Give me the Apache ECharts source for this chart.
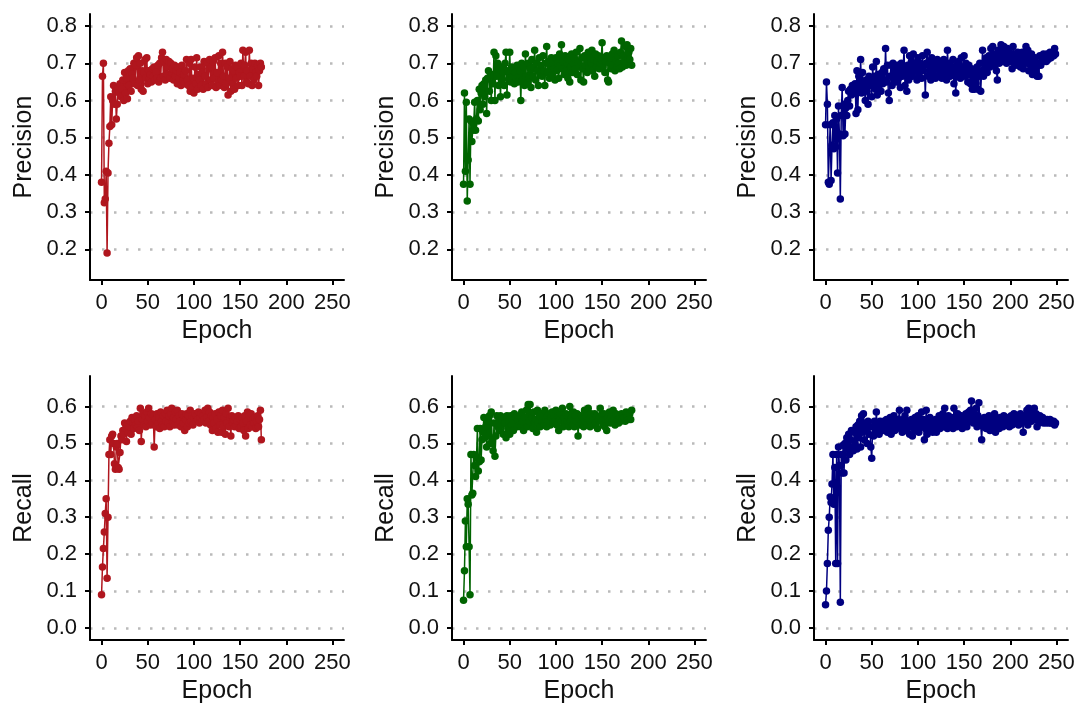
<!DOCTYPE html>
<html><head><meta charset="utf-8">
<script src="https://cdn.jsdelivr.net/npm/echarts@6/dist/echarts.min.js"></script>
<style>html,body{margin:0;padding:0;background:#fff}#c{width:1078px;height:705px}</style>
</head><body><div id="c"></div>
<script>
// Tick labels
const xTicks = [0,50,100,150,200,250];
const precTicks = [0.2,0.3,0.4,0.5,0.6,0.7,0.8];
const recTicks = [0.0,0.1,0.2,0.3,0.4,0.5,0.6];
const xLabel = 'Epoch';
const yLabels = ['Precision','Recall'];

// Model 1 (red)
const prec1 = [0.38,0.665,0.70,0.325,0.335,0.41,0.19,0.405,0.485,0.53,
0.61,0.535,0.60,0.64,0.59,0.625,0.55,0.59,0.635,0.62,
0.645,0.61,0.63,0.655,0.60,0.675,0.62,0.66,0.605,0.68,
0.64,0.685,0.625,0.67,0.66,0.70,0.645,0.695,0.715,0.64,
0.72,0.655,0.70,0.63,0.68,0.625,0.675,0.71,0.66,0.715,
0.645,0.68,0.66,0.67,0.65,0.685,0.665,0.69,0.655,0.675,
0.66,0.695,0.65,0.70,0.66,0.715,0.73,0.665,0.705,0.655,
0.71,0.67,0.69,0.705,0.66,0.70,0.675,0.685,0.655,0.695,
0.665,0.68,0.645,0.69,0.66,0.675,0.64,0.695,0.655,0.67,
0.645,0.68,0.71,0.655,0.64,0.70,0.625,0.71,0.635,0.66,
0.62,0.69,0.645,0.715,0.63,0.67,0.655,0.69,0.64,0.675,
0.63,0.705,0.665,0.645,0.70,0.635,0.685,0.71,0.655,0.69,
0.64,0.705,0.66,0.715,0.635,0.675,0.65,0.72,0.64,0.70,
0.655,0.73,0.665,0.635,0.70,0.645,0.69,0.615,0.66,0.705,
0.625,0.685,0.645,0.68,0.63,0.695,0.66,0.69,0.64,0.675,
0.665,0.70,0.64,0.735,0.665,0.695,0.73,0.65,0.68,0.645,
0.735,0.665,0.70,0.64,0.685,0.655,0.70,0.675,0.665,0.695,
0.64,0.68,0.70,0.69];
const rec1 = [0.09,0.165,0.215,0.26,0.31,0.35,0.135,0.30,0.47,0.51,
0.47,0.52,0.525,0.50,0.445,0.43,0.49,0.50,0.435,0.43,
0.475,0.52,0.51,0.535,0.525,0.555,0.54,0.505,0.55,0.53,
0.545,0.56,0.525,0.57,0.555,0.54,0.565,0.55,0.575,0.545,
0.56,0.535,0.595,0.505,0.565,0.58,0.55,0.575,0.545,0.585,
0.56,0.595,0.57,0.55,0.58,0.555,0.575,0.49,0.565,0.545,
0.58,0.555,0.57,0.54,0.585,0.56,0.55,0.575,0.545,0.58,
0.56,0.59,0.555,0.575,0.545,0.58,0.595,0.56,0.57,0.55,
0.585,0.565,0.59,0.55,0.575,0.56,0.545,0.58,0.555,0.57,
0.535,0.565,0.58,0.545,0.575,0.555,0.59,0.56,0.575,0.55,
0.57,0.58,0.56,0.575,0.565,0.585,0.555,0.57,0.58,0.56,
0.575,0.565,0.59,0.555,0.57,0.595,0.56,0.585,0.55,0.575,
0.535,0.57,0.555,0.58,0.54,0.565,0.53,0.585,0.55,0.575,
0.53,0.59,0.545,0.57,0.525,0.58,0.555,0.595,0.545,0.57,
0.52,0.575,0.555,0.565,0.545,0.57,0.55,0.56,0.575,0.54,
0.565,0.545,0.57,0.555,0.535,0.575,0.52,0.56,0.585,0.54,
0.575,0.55,0.58,0.545,0.565,0.555,0.57,0.54,0.56,0.575,
0.545,0.565,0.59,0.51];

// Model 2 (green)
const prec2 = [0.375,0.62,0.41,0.595,0.33,0.44,0.55,0.375,0.545,0.49,
0.52,0.535,0.595,0.52,0.55,0.60,0.545,0.63,0.575,0.62,
0.64,0.59,0.645,0.61,0.655,0.565,0.66,0.68,0.625,0.665,
0.60,0.67,0.645,0.73,0.60,0.72,0.665,0.70,0.64,0.685,
0.61,0.69,0.655,0.675,0.64,0.70,0.73,0.615,0.68,0.66,
0.73,0.65,0.69,0.665,0.68,0.645,0.675,0.66,0.695,0.65,
0.67,0.68,0.60,0.70,0.655,0.69,0.64,0.725,0.665,0.645,
0.70,0.66,0.685,0.635,0.71,0.665,0.69,0.735,0.655,0.70,
0.68,0.64,0.715,0.67,0.695,0.665,0.72,0.68,0.64,0.70,
0.745,0.675,0.705,0.66,0.69,0.715,0.67,0.70,0.685,0.655,
0.715,0.68,0.70,0.66,0.725,0.695,0.75,0.685,0.705,0.67,
0.72,0.68,0.70,0.66,0.71,0.65,0.69,0.725,0.675,0.70,
0.715,0.685,0.73,0.67,0.705,0.69,0.74,0.655,0.715,0.685,
0.65,0.72,0.695,0.71,0.675,0.73,0.69,0.715,0.70,0.735,
0.68,0.71,0.665,0.725,0.69,0.705,0.72,0.685,0.70,0.71,
0.755,0.69,0.715,0.675,0.705,0.72,0.655,0.65,0.70,0.715,
0.685,0.725,0.695,0.735,0.68,0.71,0.69,0.72,0.70,0.685,
0.73,0.76,0.69,0.72,0.705,0.745,0.695,0.75,0.715,0.73,
0.71,0.74,0.695];
const rec2 = [0.075,0.155,0.29,0.22,0.35,0.335,0.22,0.09,0.47,0.36,
0.365,0.47,0.44,0.41,0.46,0.54,0.425,0.45,0.54,0.455,
0.51,0.53,0.57,0.515,0.545,0.49,0.56,0.52,0.575,0.50,
0.585,0.51,0.48,0.555,0.465,0.52,0.575,0.545,0.56,0.535,
0.575,0.55,0.565,0.525,0.57,0.555,0.515,0.575,0.54,0.56,
0.525,0.575,0.55,0.565,0.535,0.58,0.555,0.57,0.545,0.565,
0.55,0.575,0.545,0.585,0.56,0.535,0.57,0.555,0.59,0.545,
0.605,0.56,0.605,0.55,0.57,0.54,0.585,0.555,0.565,0.53,
0.59,0.555,0.575,0.545,0.58,0.56,0.57,0.55,0.59,0.565,
0.545,0.575,0.56,0.58,0.55,0.57,0.585,0.555,0.57,0.56,
0.59,0.55,0.575,0.535,0.565,0.58,0.56,0.595,0.545,0.57,
0.555,0.58,0.56,0.575,0.545,0.60,0.56,0.57,0.55,0.585,
0.545,0.575,0.56,0.58,0.52,0.565,0.55,0.575,0.555,0.57,
0.545,0.59,0.56,0.575,0.55,0.595,0.565,0.545,0.58,0.56,
0.57,0.55,0.58,0.555,0.575,0.54,0.565,0.57,0.595,0.56,
0.575,0.55,0.58,0.545,0.565,0.535,0.57,0.56,0.585,0.555,
0.575,0.56,0.59,0.565,0.55,0.58,0.565,0.575,0.555,0.57,
0.56,0.58,0.565,0.575,0.57,0.56,0.585,0.57,0.575,0.565,
0.58,0.565,0.59];

// Model 3 (blue)
const prec3 = [0.535,0.65,0.59,0.38,0.375,0.535,0.385,0.48,0.54,0.47,
0.56,0.475,0.55,0.405,0.585,0.51,0.335,0.56,0.635,0.505,
0.59,0.51,0.58,0.56,0.60,0.625,0.585,0.63,0.615,0.64,
0.62,0.635,0.645,0.565,0.68,0.575,0.665,0.635,0.71,0.62,
0.675,0.645,0.63,0.60,0.655,0.625,0.59,0.665,0.64,0.66,
0.61,0.69,0.645,0.665,0.63,0.705,0.615,0.67,0.64,0.66,
0.625,0.675,0.645,0.685,0.655,0.74,0.65,0.695,0.62,0.60,
0.665,0.695,0.64,0.70,0.655,0.685,0.67,0.65,0.695,0.66,
0.68,0.635,0.70,0.665,0.69,0.735,0.64,0.68,0.625,0.695,
0.655,0.72,0.675,0.705,0.665,0.725,0.69,0.68,0.70,0.655,
0.715,0.67,0.70,0.685,0.66,0.72,0.68,0.695,0.615,0.70,
0.73,0.665,0.705,0.68,0.655,0.715,0.69,0.67,0.705,0.66,
0.685,0.71,0.665,0.695,0.675,0.70,0.66,0.685,0.71,0.67,
0.695,0.655,0.735,0.68,0.70,0.665,0.69,0.67,0.71,0.645,
0.685,0.62,0.695,0.67,0.705,0.68,0.66,0.715,0.675,0.69,
0.72,0.665,0.70,0.68,0.65,0.695,0.67,0.645,0.685,0.63,
0.66,0.63,0.675,0.645,0.69,0.63,0.665,0.70,0.625,0.68,
0.735,0.665,0.70,0.685,0.715,0.675,0.705,0.72,0.69,0.74,
0.71,0.745,0.695,0.725,0.715,0.68,0.655,0.735,0.70,0.72,
0.75,0.705,0.735,0.745,0.71,0.725,0.70,0.74,0.715,0.73,
0.705,0.72,0.685,0.745,0.71,0.725,0.695,0.715,0.73,0.705,
0.72,0.69,0.71,0.73,0.685,0.705,0.72,0.745,0.70,0.735,
0.68,0.715,0.695,0.725,0.67,0.705,0.69,0.715,0.675,0.665,
0.70,0.665,0.72,0.695,0.715,0.705,0.725,0.71,0.72,0.705,
0.725,0.71,0.72,0.73,0.715,0.725,0.73,0.72,0.74,0.725];
const rec3 = [0.063,0.10,0.175,0.265,0.30,0.355,0.34,0.39,0.47,0.335,
0.435,0.175,0.47,0.175,0.49,0.44,0.07,0.47,0.42,0.495,
0.42,0.50,0.455,0.515,0.485,0.525,0.47,0.51,0.535,0.49,
0.48,0.53,0.50,0.545,0.485,0.55,0.515,0.56,0.49,0.575,
0.53,0.58,0.51,0.555,0.54,0.50,0.56,0.525,0.545,0.49,
0.46,0.545,0.52,0.56,0.53,0.585,0.54,0.55,0.525,0.56,
0.545,0.555,0.535,0.56,0.54,0.55,0.565,0.53,0.555,0.545,
0.57,0.525,0.555,0.54,0.575,0.535,0.56,0.55,0.545,0.565,
0.59,0.54,0.555,0.53,0.565,0.545,0.575,0.535,0.59,0.55,
0.56,0.525,0.545,0.565,0.52,0.555,0.54,0.57,0.535,0.55,
0.575,0.53,0.56,0.545,0.585,0.55,0.565,0.51,0.54,0.59,
0.525,0.555,0.535,0.57,0.54,0.56,0.53,0.555,0.545,0.565,
0.53,0.56,0.545,0.575,0.54,0.565,0.55,0.58,0.545,0.595,
0.55,0.565,0.54,0.575,0.555,0.545,0.57,0.56,0.54,0.595,
0.555,0.57,0.545,0.58,0.56,0.55,0.565,0.575,0.54,0.56,
0.57,0.555,0.58,0.545,0.565,0.585,0.56,0.59,0.615,0.57,
0.555,0.58,0.56,0.595,0.545,0.575,0.61,0.56,0.55,0.51,
0.56,0.545,0.57,0.555,0.54,0.565,0.55,0.575,0.535,0.56,
0.545,0.57,0.555,0.58,0.53,0.565,0.55,0.56,0.54,0.57,
0.555,0.565,0.545,0.575,0.56,0.55,0.57,0.555,0.565,0.545,
0.56,0.575,0.55,0.565,0.58,0.555,0.57,0.56,0.575,0.55,
0.565,0.58,0.555,0.57,0.53,0.56,0.575,0.565,0.59,0.55,
0.595,0.57,0.585,0.56,0.59,0.575,0.595,0.565,0.58,0.545,
0.57,0.555,0.575,0.565,0.56,0.57,0.555,0.565,0.56,0.555,
0.565,0.56,0.555,0.565,0.555,0.56,0.555,0.56,0.55,0.555];

const colors = ['#B0161E','#006400','#000080'];
const panelsData = [[prec1,prec2,prec3],[rec1,rec2,rec3]];

const colLeft = [90, 452, 814];
const rowTop = [14, 376];
const W = 254, H = 266;
const yRange = [[0.1175,0.8325],[-0.0325,0.6825]];
const yTickSets = [precTicks, recTicks];

const grids=[], xAxes=[], yAxes=[], series=[];
const font = 'Liberation Sans, Arial, sans-serif';
let k=0;
for (let r=0;r<2;r++){
  for (let c=0;c<3;c++){
    grids.push({left:colLeft[c], top:rowTop[r], width:W, height:H, containLabel:false});
    xAxes.push({
      type:'value', gridIndex:k, min:-12.5, max:262.5,
      name:xLabel, nameLocation:'middle', nameGap:39,
      nameTextStyle:{fontFamily:font, fontSize:25, color:'#111'},
      axisLine:{show:true, onZero:false, lineStyle:{color:'#000', width:2}},
      axisTick:{show:true, length:5, lineStyle:{color:'#000', width:2}, customValues:xTicks},
      axisLabel:{fontFamily:font, fontSize:22, color:'#111', margin:12, customValues:xTicks},
      splitLine:{show:false}
    });
    yAxes.push({
      type:'value', gridIndex:k, min:yRange[r][0], max:yRange[r][1],
      name:yLabels[r], nameLocation:'middle', nameGap:53, nameRotate:90,
      nameTextStyle:{fontFamily:font, fontSize:25, color:'#111'},
      axisLine:{show:true, onZero:false, lineStyle:{color:'#000', width:2}},
      axisTick:{show:true, length:5, lineStyle:{color:'#000', width:2}, customValues:yTickSets[r]},
      axisLabel:{fontFamily:font, fontSize:22, color:'#111', margin:13, customValues:yTickSets[r],
        formatter:v=>Number(v).toFixed(1)},
      splitLine:{show:true, lineStyle:{color:'#bababa', width:2.5, type:[2.5,9.5]}}
    });
    series.push({
      type:'line', xAxisIndex:k, yAxisIndex:k,
      data: panelsData[r][c].map((v,i)=>[i,v]),
      symbol:'circle', symbolSize:7.5, showSymbol:true,
      lineStyle:{color:colors[c], width:1.5},
      itemStyle:{color:colors[c]},
      animation:false
    });
    k++;
  }
}
const chart = echarts.init(document.getElementById('c'), null, {renderer:'canvas'});
chart.setOption({animation:false, grid:grids, xAxis:xAxes, yAxis:yAxes, series:series});
</script></body></html>
